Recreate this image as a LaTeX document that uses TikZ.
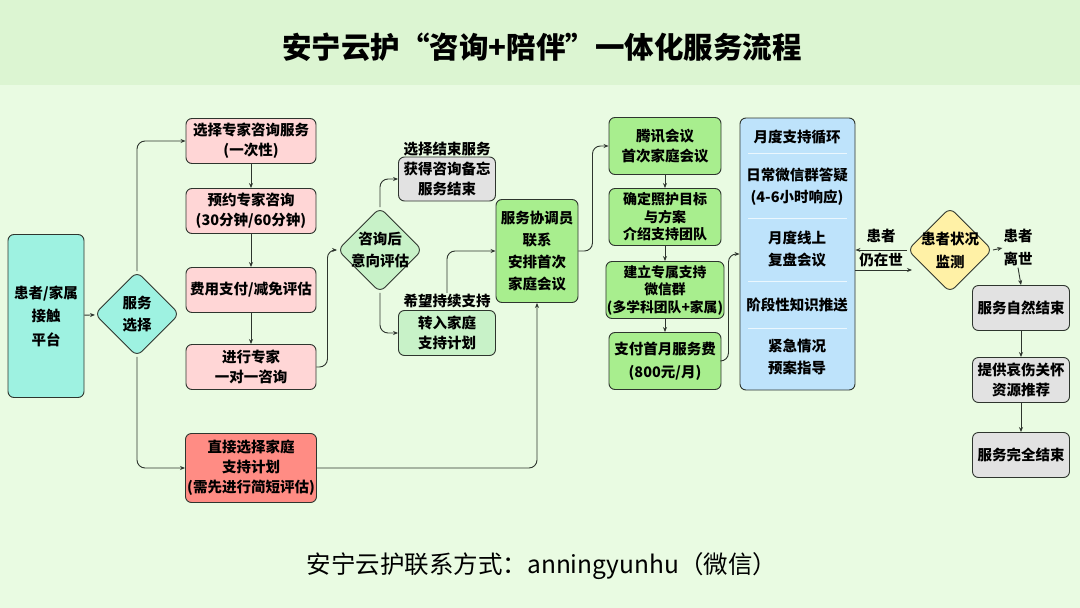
\documentclass[tikz,border=0pt]{standalone}
\usepackage{fontspec}
\setmainfont{Noto Sans CJK SC}
\usepackage{tikz}
\usetikzlibrary{shapes.geometric, arrows.meta, positioning, calc}
\definecolor{pagebg}{HTML}{E9FBE2}
\definecolor{headbg}{HTML}{DCF5D2}
\definecolor{entrycolor}{HTML}{9EF2E1}
\definecolor{expertcolor}{HTML}{FFD6D6}
\definecolor{directcolor}{HTML}{FF8C84}
\definecolor{endcolor}{HTML}{E2E2E2}
\definecolor{evalcolor}{HTML}{C8F2C8}
\definecolor{familycolor}{HTML}{A8EE8E}
\definecolor{cyclecolor}{HTML}{BEE3FB}
\definecolor{monitorcolor}{HTML}{FFF1A6}
\definecolor{linecolor}{HTML}{2E352E}
\newcommand{\boxfont}{\bfseries\fontsize{14.5}{20}\selectfont}

\begin{document}
\begin{tikzpicture}[
    x=1pt, y=-1pt,
    stepbox/.style={draw=linecolor, line width=0.9pt, fill=#1, rounded corners=6pt, align=center, font=\boxfont, inner sep=1pt},
    decision/.style={diamond, draw=linecolor, line width=0.9pt, fill=#1, minimum width=85, minimum height=85, rounded corners=7pt, inner sep=0pt},
    dtext/.style={align=center, font=\bfseries\fontsize{14.5}{22.5}\selectfont},
    flow/.style={draw=linecolor, line width=0.9pt, rounded corners=8pt, -{Stealth[length=5pt, width=4pt]}},
    tag/.style={font=\boxfont, align=center, inner sep=1pt},
    sepline/.style={draw=white!70!cyclecolor, line width=1pt}
]
    \useasboundingbox (0,0) rectangle (1080,608);
    % Background and header band
    \fill[pagebg] (0,0) rectangle (1080,608);
    \fill[headbg] (0,0) rectangle (1080,85);
    \node[font=\bfseries\fontsize{29.5}{32}\selectfont] (title) at (542,47) {安宁云护“咨询+陪伴”一体化服务流程};

    % Entry and first choice
    \node[stepbox=entrycolor, minimum width=76, minimum height=163, font=\bfseries\fontsize{14.5}{23.5}\selectfont] (entry) at (46,316) {患者/家属\\接触\\平台};
    \node[decision=entrycolor] (choice) at (137,314) {};
    \node[dtext] at (choice) {服务\\选择};

    % Expert consultation track
    \node[stepbox=expertcolor, minimum width=130, minimum height=45] (expert) at (251,141) {选择专家咨询服务\\(一次性)};
    \node[stepbox=expertcolor, minimum width=130, minimum height=45] (book) at (251,211) {预约专家咨询\\(30分钟/60分钟)};
    \node[stepbox=expertcolor, minimum width=130, minimum height=45] (fee) at (251,290) {费用支付/减免评估};
    \node[stepbox=expertcolor, minimum width=130, minimum height=45] (consult) at (251,367) {进行专家\\一对一咨询};
    \node[stepbox=directcolor, minimum width=131, minimum height=69] (direct) at (251,468) {直接选择家庭\\支持计划\\(需先进行简短评估)};

    % After consultation
    \node[decision=evalcolor] (eval) at (380,250) {};
    \node[dtext, font=\bfseries\fontsize{14.5}{22}\selectfont] at (eval) {咨询后\\意向评估};
    \node[stepbox=endcolor, minimum width=97, minimum height=44] (closed) at (447,179) {获得咨询备忘\\服务结束};
    \node[tag] (closelbl) at (447,149) {选择结束服务};
    \node[stepbox=evalcolor, minimum width=97, minimum height=45] (transfer) at (447,333) {转入家庭\\支持计划};
    \node[tag] (wishlbl) at (447,301) {希望持续支持};

    % Family support plan
    \node[stepbox=familycolor, minimum width=82, minimum height=103, font=\bfseries\fontsize{14.5}{22}\selectfont] (coord) at (537,251) {服务协调员\\联系\\安排首次\\家庭会议};
    \node[stepbox=familycolor, minimum width=112, minimum height=57] (meeting) at (665,146) {腾讯会议\\首次家庭会议};
    \node[stepbox=familycolor, minimum width=112, minimum height=57, font=\bfseries\fontsize{14}{17.5}\selectfont] (goals) at (665,217) {确定照护目标\\与方案\\介绍支持团队};
    \node[stepbox=familycolor, minimum width=112, minimum height=57, font=\bfseries\fontsize{13.8}{17.5}\selectfont] (group) at (665,290) {建立专属支持\\微信群\\(多学科团队+家属)};
    \node[stepbox=familycolor, minimum width=112, minimum height=57, font=\bfseries\fontsize{14.5}{23}\selectfont] (monthfee) at (665,361) {支付首月服务费\\(800元/月)};

    % Monthly support cycle
    \node[stepbox=cyclecolor, minimum width=115, minimum height=272] (cycle) at (797.5,254) {};
    \foreach \y in {153,218,281,328}
        \draw[sepline] (748,\y) -- (847,\y);
    \node[tag, font=\bfseries\fontsize{14.5}{22}\selectfont] (daily) at (797,137) {月度支持循环};
    \node[tag, font=\bfseries\fontsize{14.5}{22}\selectfont] (answer) at (797,187) {日常微信群答疑\\(4-6小时响应)};
    \node[tag, font=\bfseries\fontsize{14.5}{22}\selectfont] (review) at (797,249) {月度线上\\复盘会议};
    \node[tag, font=\bfseries\fontsize{14.5}{22}\selectfont] (push) at (797,305) {阶段性知识推送};
    \node[tag, font=\bfseries\fontsize{14.5}{22}\selectfont] (urgent) at (797,357) {紧急情况\\预案指导};

    % Monitoring and closing
    \node[decision=monitorcolor] (monitor) at (950,250) {};
    \node[dtext, font=\bfseries\fontsize{14.5}{23}\selectfont] at (monitor) {患者状况\\监测};
    \node[tag] (alive1) at (881,236) {患者};
    \node[tag] (alive2) at (881,260) {仍在世};
    \coordinate (back) at (912,270);
    \node[tag, font=\bfseries\fontsize{14.5}{23}\selectfont] (gone) at (1018,248) {患者\\离世};
    \node[stepbox=endcolor, minimum width=97, minimum height=45] (natural) at (1021,308) {服务自然结束};
    \node[stepbox=endcolor, minimum width=97, minimum height=45] (grief) at (1021,380) {提供哀伤关怀\\资源推荐};
    \node[stepbox=endcolor, minimum width=97, minimum height=45] (final) at (1021,455) {服务完全结束};

    % Connections
    \draw[flow] (entry) -- (choice);
    \draw[flow] (choice.north) |- (expert.west);
    \draw[flow] (choice.south) |- (direct.west);
    \draw[flow] (expert) -- (book);
    \draw[flow] (book) -- (fee);
    \draw[flow] (fee) -- (consult);
    \draw[flow] (consult.east) -- ++(11,0) |- (eval.west);
    \draw[flow] (eval.north) |- (closed.west);
    \draw[flow] (eval.south) |- (transfer.west);
    \draw[flow] (wishlbl.north) |- (coord.west);
    \draw[flow] (direct.east) -| (coord.south);
    \draw[flow] (coord.east) -- ++(14,0) |- (meeting.west);
    \draw[flow] (meeting) -- (goals);
    \draw[flow] (goals) -- (group);
    \draw[flow] (group) -- (monthfee);
    \draw[flow] (monthfee.east) -- ++(7,0) |- (cycle.west);
    \draw[flow] (monitor.west) -- (cycle.east |- monitor.west);
    \draw[flow] (cycle.east |- back) -- (back);
    \draw[flow] (monitor.east) -- (gone.west);
    \draw[flow] (gone.south) -- (natural.north);
    \draw[flow] (natural) -- (grief);
    \draw[flow] (grief) -- (final);

    % Contact line
    \node[font=\fontsize{24.5}{28}\selectfont] (contact) at (542,566) {安宁云护联系方式：anningyunhu（微信）};
\end{tikzpicture}
\end{document}
